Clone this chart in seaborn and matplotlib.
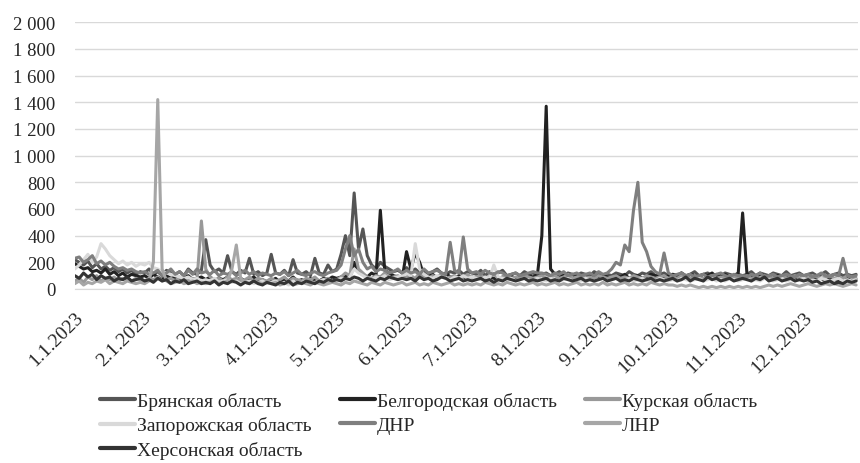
import matplotlib
matplotlib.use("Agg")

import matplotlib.pyplot as plt
import matplotlib.dates as mdates
from matplotlib.ticker import FuncFormatter
import seaborn as sns
import pandas as pd

# values every 2 days, 1 Jan 2023 .. 27 Dec 2023 (180 points)
dates = pd.date_range("2023-01-01", periods=180, freq="2D")

bryansk = [
    220, 200, 180, 210, 160, 190, 150, 170, 140, 160, 130, 150, 120, 140, 110, 130,
    120, 150, 110, 130, 100, 140, 120, 110, 130, 100, 150, 120, 110, 140,
    370, 180, 130, 150, 120, 250, 130, 110, 140, 120, 230, 110, 130, 100, 120,
    260, 120, 110, 140, 100, 220, 120, 110, 130, 100, 230, 120, 110, 180, 130,
    150, 260, 400, 250, 720, 300, 450, 250, 180, 150, 200, 170, 150, 130, 140, 120,
    160, 130, 150, 120, 140, 110, 130, 150, 120, 110, 130, 120, 140, 110, 130,
    120, 110, 140, 100, 130, 110, 120, 140, 100, 110, 120, 100, 130, 110, 120, 100,
    110, 120, 100, 110, 130, 100, 120, 110, 100, 120, 110, 100, 130, 110, 100,
    110, 100, 120, 110, 100, 130, 110, 100, 120, 110, 130, 100, 110, 120, 100,
    110, 100, 120, 100, 110, 130, 100, 110, 120, 100, 110, 100, 120, 110, 100, 110,
    100, 110, 130, 100, 120, 110, 100, 120, 110, 100, 130, 100, 110, 120,
    100, 110, 120, 100, 110, 130, 100, 110, 120, 100, 110, 100, 110,
]
belgorod = [
    190, 170, 150, 160, 130, 140, 120, 150, 110, 130, 100, 120, 90, 110, 100, 90,
    100, 80, 110, 90, 70, 100, 80, 90, 70, 80, 100, 70, 80, 90,
    70, 90, 60, 80, 70, 90, 60, 70, 80, 60, 70, 90, 60, 70, 50,
    60, 80, 50, 70, 60, 90, 60, 70, 50, 80, 70, 60, 80, 70, 90,
    80, 90, 100, 80, 200, 130, 110, 90, 120, 100, 590, 140, 120, 100, 90, 80,
    280, 150, 270, 200, 100, 90, 110, 80, 100, 120, 90, 80, 100, 90, 80,
    90, 80, 100, 70, 90, 80, 70, 90, 80, 100, 70, 90, 80, 100, 90, 110,
    400, 1370, 150, 110, 90, 100, 80, 110, 90, 100, 80, 90, 110, 80, 100,
    90, 80, 100, 90, 110, 80, 90, 100, 80, 90, 110, 100, 90, 80, 100,
    110, 100, 120, 90, 110, 100, 90, 110, 100, 120, 90, 100, 110, 90, 100, 120,
    570, 110, 100, 90, 110, 100, 90, 80, 100, 90, 80, 100, 90, 80,
    90, 80, 70, 90, 80, 60, 80, 70, 60, 70, 80, 60, 70,
]
kursk = [
    60, 80, 50, 90, 70, 100, 60, 80, 70, 90, 60, 80, 70, 60, 80, 70,
    60, 80, 70, 90, 60, 70, 80, 60, 90, 70, 60, 80, 70, 510,
    150, 90, 70, 80, 60, 90, 70, 80, 60, 70, 90, 60, 80, 70, 60,
    80, 60, 70, 90, 60, 80, 70, 60, 80, 70, 90, 60, 70, 80, 60,
    70, 90, 120, 100, 300, 150, 120, 90, 80, 100, 90, 120, 80, 90, 100, 80,
    90, 100, 80, 120, 90, 80, 100, 90, 110, 80, 90, 100, 80, 90, 110,
    80, 90, 100, 80, 90, 110, 80, 90, 100, 80, 90, 80, 100, 90, 80, 90,
    100, 80, 90, 100, 80, 90, 110, 80, 90, 100, 80, 90, 80, 100, 90,
    80, 90, 100, 80, 90, 80, 100, 90, 80, 100, 90, 80, 90, 100, 80,
    90, 80, 100, 90, 80, 100, 90, 80, 90, 100, 80, 90, 80, 100, 90, 80,
    90, 100, 80, 90, 80, 100, 90, 80, 90, 100, 80, 90, 100, 80,
    90, 80, 100, 90, 80, 90, 100, 80, 90, 80, 100, 90, 80,
]
zaporozhye = [
    150, 180, 220, 260, 200, 240, 340, 300, 250, 220, 190, 210, 180, 200, 170, 190,
    180, 200, 160, 150, 130, 120, 110, 100, 90, 80, 90, 70, 80, 60,
    70, 60, 80, 50, 60, 70, 50, 60, 40, 50, 60, 40, 50, 60, 40,
    50, 60, 40, 50, 30, 60, 40, 50, 60, 40, 50, 60, 70, 50, 60,
    60, 80, 70, 90, 150, 120, 100, 80, 70, 90, 80, 100, 70, 80, 90, 100,
    120, 100, 340, 150, 110, 90, 80, 100, 90, 80, 70, 90, 80, 100, 80,
    90, 80, 70, 90, 80, 180, 90, 80, 70, 80, 60, 70, 80, 60, 70, 80,
    70, 60, 80, 70, 60, 70, 80, 60, 70, 60, 80, 70, 60, 70, 80,
    60, 70, 80, 60, 70, 80, 60, 70, 80, 60, 70, 60, 80, 70, 60,
    70, 60, 80, 70, 60, 70, 80, 60, 70, 80, 60, 70, 60, 80, 70, 60,
    70, 80, 60, 70, 60, 80, 70, 60, 70, 80, 60, 70, 60, 70,
    80, 60, 70, 60, 80, 70, 60, 70, 80, 60, 70, 60, 70,
]
dnr = [
    230, 240, 200, 220, 250, 190, 210, 180, 200, 170, 150, 160, 140, 150, 130, 120,
    130, 110, 120, 140, 100, 120, 150, 110, 130, 100, 140, 110, 150, 120,
    130, 110, 140, 100, 120, 110, 130, 100, 120, 140, 110, 130, 100, 120, 110,
    100, 120, 110, 130, 100, 120, 140, 110, 100, 120, 130, 110, 100, 120, 130,
    140, 180, 300, 400, 250, 300, 200, 150, 170, 130, 150, 140, 120, 130, 150, 120,
    140, 120, 130, 110, 150, 120, 130, 140, 120, 110, 350, 140, 120, 390, 150,
    120, 130, 110, 140, 120, 110, 130, 120, 100, 110, 120, 100, 110, 120, 130, 120,
    120, 110, 100, 120, 110, 130, 100, 110, 120, 100, 110, 120, 100, 130, 110,
    120, 150, 200, 180, 330, 280, 590, 800, 350, 280, 170, 130, 110, 270, 120,
    100, 110, 120, 100, 110, 90, 100, 110, 90, 100, 110, 120, 100, 90, 110, 100,
    100, 90, 110, 100, 120, 90, 100, 110, 90, 100, 110, 100, 90, 110,
    100, 110, 90, 100, 120, 100, 90, 110, 100, 230, 100, 90, 100,
]
lnr = [
    40, 60, 30, 50, 40, 60, 50, 70, 40, 60, 50, 40, 60, 50, 40, 50,
    40, 60, 200, 1420, 150, 60, 40, 50, 60, 40, 50, 60, 40, 50,
    40, 50, 60, 40, 50, 60, 150, 330, 80, 50, 40, 60, 50, 40, 50,
    40, 50, 30, 40, 50, 30, 40, 50, 40, 30, 50, 40, 30, 40, 50,
    40, 30, 50, 40, 60, 50, 40, 30, 50, 40, 30, 50, 40, 30, 40, 50,
    30, 40, 50, 30, 40, 30, 50, 40, 30, 40, 50, 30, 40, 30, 40,
    30, 40, 30, 50, 40, 30, 40, 30, 50, 40, 30, 40, 30, 40, 50, 30,
    40, 30, 40, 50, 30, 40, 30, 40, 50, 30, 40, 30, 40, 30, 50,
    30, 40, 30, 40, 50, 30, 40, 30, 40, 30, 50, 40, 30, 40, 30,
    30, 20, 30, 20, 30, 20, 10, 20, 10, 20, 10, 20, 10, 20, 10, 20,
    10, 20, 10, 20, 10, 20, 30, 20, 30, 20, 30, 40, 30, 20,
    30, 40, 30, 20, 30, 40, 30, 40, 30, 20, 30, 40, 30,
]
kherson = [
    100, 80, 120, 90, 110, 70, 100, 80, 90, 60, 80, 70, 90, 60, 70, 80,
    60, 70, 50, 80, 60, 70, 40, 60, 50, 70, 40, 50, 60, 40,
    50, 40, 60, 30, 50, 40, 60, 50, 30, 50, 40, 60, 40, 30, 50,
    40, 30, 50, 40, 60, 30, 50, 40, 60, 50, 40, 60, 50, 70, 60,
    70, 60, 80, 70, 90, 80, 60, 80, 70, 60, 80, 70, 90, 80, 70, 80,
    70, 80, 60, 90, 70, 80, 60, 70, 90, 80, 60, 70, 80, 60, 70,
    60, 70, 80, 60, 70, 50, 70, 60, 80, 70, 60, 70, 80, 60, 70, 60,
    70, 80, 60, 70, 60, 80, 70, 60, 70, 80, 60, 70, 60, 70, 80,
    60, 70, 80, 60, 70, 60, 80, 70, 60, 70, 80, 60, 70, 60, 70,
    80, 60, 70, 90, 60, 80, 70, 60, 90, 70, 80, 60, 70, 80, 60, 70,
    80, 70, 60, 80, 70, 90, 60, 70, 80, 60, 70, 80, 60, 70,
    60, 70, 50, 60, 40, 50, 60, 40, 50, 40, 60, 50, 60,
]

regions = ["Брянская область", "Белгородская область", "Курская область",
           "Запорожская область", "ДНР", "ЛНР", "Херсонская область"]
series = [bryansk, belgorod, kursk, zaporozhye, dnr, lnr, kherson]
colors = ["#555555", "#222222", "#999999", "#d9d9d9", "#7f7f7f", "#a6a6a6", "#333333"]

sns.set_style("white")
plt.rcParams["font.family"] = ["Liberation Serif", "DejaVu Serif"]

fig = plt.figure(figsize=(8.6, 4.64), dpi=100)
ax = fig.add_axes([0.087, 0.375, 0.911, 0.575])

for name, vals, col in zip(regions, series, colors):
    df = pd.DataFrame({"date": dates, "value": vals})
    sns.lineplot(data=df, x="date", y="value", color=col, linewidth=2.2,
                 label=name, ax=ax, legend=False)

ax.set_ylim(0, 2000)
ax.set_yticks(range(0, 2001, 200))
ax.yaxis.set_major_formatter(FuncFormatter(lambda v, p: f"{int(v):,}".replace(",", " ")))
ax.set_xlim(pd.Timestamp("2023-01-01"), pd.Timestamp("2023-12-26"))
ax.set_xticks(pd.date_range("2023-01-01", periods=12, freq="MS"))
ax.xaxis.set_major_formatter(FuncFormatter(
    lambda v, p: "{d.month}.{d.day}.{d.year}".format(d=mdates.num2date(v))))
ax.set_xlabel("")
ax.set_ylabel("")

ax.grid(axis="y", color="#d9d9d9", linewidth=1)
ax.set_axisbelow(True)
for s in ["top", "right", "left"]:
    ax.spines[s].set_visible(False)
ax.spines["bottom"].set_color("#d9d9d9")
ax.tick_params(axis="y", length=0, pad=14, labelsize=13.5)
ax.tick_params(axis="x", length=5, color="#d9d9d9", pad=9, labelsize=14)
for lbl in ax.get_xticklabels():
    lbl.set_rotation(45)
    lbl.set_ha("right")
    lbl.set_rotation_mode("anchor")

# legend: filled column by column, so reorder to read row by row
handles, labels = ax.get_legend_handles_labels()
order = [0, 3, 6, 1, 4, 2, 5]
leg = fig.legend([handles[i] for i in order], [labels[i] for i in order],
                 ncol=3, loc="upper left", bbox_to_anchor=(100 / 860, 1 - 393 / 464),
                 frameon=False, fontsize=14, handlelength=1.8, handletextpad=0.1,
                 columnspacing=1.45, labelspacing=0.33, borderpad=0, borderaxespad=0)
for line in leg.get_lines():
    line.set_linewidth(3)

fig.savefig("out.png", dpi=100)
